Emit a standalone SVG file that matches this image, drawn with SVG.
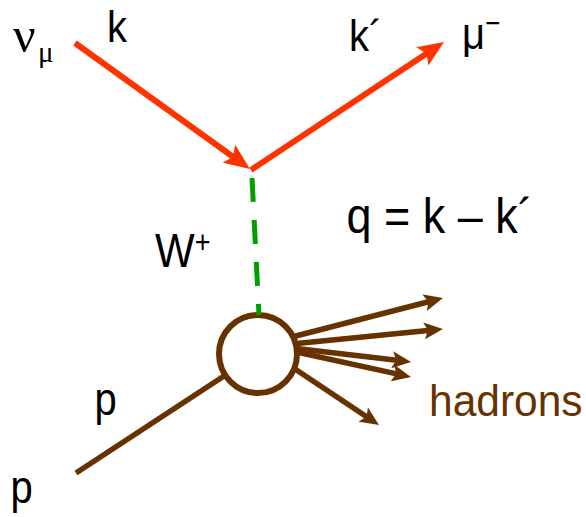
<svg xmlns="http://www.w3.org/2000/svg" width="586" height="517" viewBox="0 0 586 517">
  <style>
    .lbl { font-family: "Liberation Sans", Arial, sans-serif; fill: #000; }
    .greek { font-family: "Liberation Serif", "Times New Roman", serif; fill: #000; }
    .had { font-family: "Liberation Sans", Arial, sans-serif; fill: #663300; }
    .red { stroke: #FF3300; stroke-width: 6; fill: none; }
    .brown { stroke: #663300; stroke-width: 5.5; fill: none; }
    .w { stroke: #00A000; stroke-width: 5; fill: none; stroke-dasharray: 24 18; }
  </style>
  <defs>
    <marker id="ahRed" markerUnits="userSpaceOnUse" markerWidth="26" markerHeight="22" viewBox="0 0 26 22" refX="11" refY="11" orient="auto">
      <path d="M0,0 L26,11 L0,22 L5,11 z" fill="#FF3300"/>
    </marker>
    <marker id="ahBrown" markerUnits="userSpaceOnUse" markerWidth="19" markerHeight="17" viewBox="0 0 19 17" refX="9" refY="8.5" orient="auto">
      <path d="M0,0 L19,8.5 L0,17 L4,8.5 z" fill="#663300"/>
    </marker>
  </defs>

  <g id="connectors">
    <path id="nu-in" class="red" d="M75,43 L237.8,160.2" marker-end="url(#ahRed)"/>
    <path id="mu-out" class="red" d="M251,170 L431.5,50.3" marker-end="url(#ahRed)"/>
    <path id="proton-in" class="brown" d="M76,473 L224,376"/>
    <path id="h1" class="brown" d="M292,337 L433.3,300.5" marker-end="url(#ahBrown)"/>
    <path id="h2" class="brown" d="M292,344 L433,330" marker-end="url(#ahBrown)"/>
    <path id="h3" class="brown" d="M292,348 L401.1,360.8" marker-end="url(#ahBrown)"/>
    <path id="h4" class="brown" d="M292,351 L401.2,374.9" marker-end="url(#ahBrown)"/>
    <path id="h5" class="brown" d="M292,367 L370.7,419.5" marker-end="url(#ahBrown)"/>
  </g>

  <g id="vertex">
    <circle cx="258" cy="354" r="39" fill="#fff" stroke="#663300" stroke-width="6"/>
  </g>

  <g id="w-boson">
    <path class="w" d="M252,178 L259,315"/>
  </g>

  <g id="labels">
    <text class="greek" x="13" y="52" font-size="50">ν</text>
    <text class="greek" x="38" y="62" font-size="29">μ</text>
    <text class="lbl" transform="translate(107,42) scale(1,1.12)" font-size="40">k</text>
    <text class="lbl" transform="translate(349,51) scale(1,1.12)" font-size="40">k´</text>
    <text class="lbl" transform="translate(462,49) scale(1,1.12)" font-size="40">μ<tspan font-size="26" dy="-14">−</tspan></text>
    <text class="lbl" transform="translate(346.5,233) scale(1,1.12)" font-size="45">q = k – k´</text>
    <text class="lbl" transform="translate(155,267) scale(1,1.15)" font-size="42">W<tspan font-size="27" dy="-12">+</tspan></text>
    <text class="lbl" transform="translate(94.5,415) scale(1,1.15)" font-size="40">p</text>
    <text class="lbl" transform="translate(10.5,503) scale(1,1.15)" font-size="40">p</text>
    <text class="had" transform="translate(429,416) scale(1,1.05)" font-size="42.5">hadrons</text>
  </g>
</svg>
